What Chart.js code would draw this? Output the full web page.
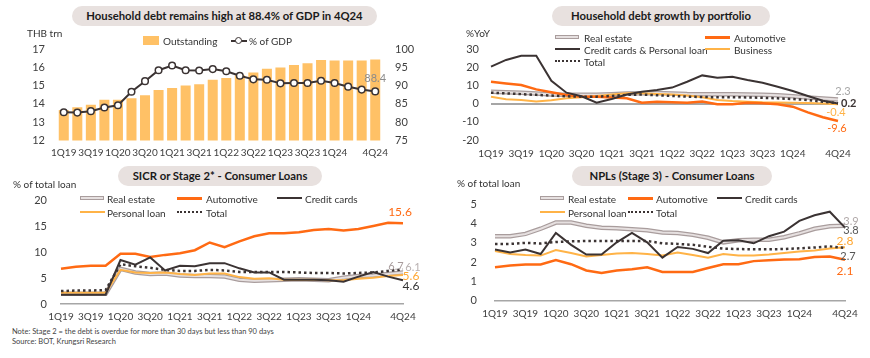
<!DOCTYPE html>
<html>
<head>
<meta charset="utf-8">
<script src="https://cdn.jsdelivr.net/npm/chart.js@4.4.0/dist/chart.umd.min.js"></script>
<style>
  html, body { margin: 0; padding: 0; background: #fff; }
  body { width: 870px; height: 358px; position: relative; overflow: hidden; font-family: Lato, "Open Sans", sans-serif; color: #333; }
  .abs { position: absolute; }
  .pill { position: absolute; height: 20px; line-height: 20px; border-radius: 10px; background: #e8e1df; text-align: center; font-weight: bold; font-size: 11.3px; color: #1a1a1a; white-space: nowrap; }
  .unit { position: absolute; font-size: 10px; color: #333; line-height: 12px; white-space: nowrap; }
  .lg { position: absolute; font-size: 10px; color: #333; line-height: 12px; white-space: nowrap; }
  .sw { position: absolute; }
  .note { position: absolute; left: 12px; font-size: 7.5px; color: #444; line-height: 10px; white-space: nowrap; }
</style>
</head>
<body>
<canvas id="c1" class="abs" width="435" height="132" style="left:0;top:28px"></canvas>
<canvas id="c2" class="abs" width="435" height="132" style="left:435px;top:28px"></canvas>
<canvas id="c3" class="abs" width="435" height="145" style="left:0;top:180px"></canvas>
<canvas id="c4" class="abs" width="435" height="145" style="left:435px;top:180px"></canvas>

<div class="pill" style="left:72px;top:6px;width:305px">Household debt remains high at 88.4% of GDP in 4Q24</div>
<div class="pill" style="left:552px;top:6px;width:218px">Household debt growth by portfolio</div>
<div class="pill" style="left:118px;top:166px;width:204px">SICR or Stage 2* - Consumer Loans</div>
<div class="pill" style="left:572px;top:166px;width:200px">NPLs (Stage 3) - Consumer Loans</div>

<div class="unit" style="left:27px;top:27px">THB trn</div>
<div class="unit" style="left:466px;top:27px">%YoY</div>
<div class="unit" style="left:13px;top:178px">% of total loan</div>
<div class="unit" style="left:457px;top:177px">% of total loan</div>

<div id="legends"></div>

<div class="note" style="top:327px">Note: Stage 2 = the debt is overdue for more than 30 days but less than 90 days</div>
<div class="note" style="top:337px">Source: BOT, Krungsri Research</div>

<script>
// quarters shared by all four panels
const quarters = ["1Q19", "2Q19", "3Q19", "4Q19", "1Q20", "2Q20", "3Q20", "4Q20",
  "1Q21", "2Q21", "3Q21", "4Q21", "1Q22", "2Q22", "3Q22", "4Q22",
  "1Q23", "2Q23", "3Q23", "4Q23", "1Q24", "2Q24", "3Q24", "4Q24"]

// Household debt (THB trn) and % of GDP
const debtOutstanding = [13.66, 13.81, 13.95, 14.22, 14.22, 14.31, 14.47, 14.76, 14.87, 15.01, 15.07, 15.32,
  15.41, 15.57, 15.72, 15.92, 15.99, 16.12, 16.22, 16.40, 16.37, 16.37, 16.37, 16.42]
const debtPctGdp = [82.7, 82.6, 83.0, 84.0, 84.6, 88.3, 91.2, 94.2, 95.5, 94.2, 94.1, 94.5,
  93.9, 92.7, 91.7, 91.6, 90.6, 90.7, 90.7, 91.3, 90.7, 89.7, 88.9, 88.4]

// Growth by portfolio (%YoY)
const growthRealEstate = [6.5, 6.2, 6.0, 5.6, 5.0, 4.8, 4.8, 4.9, 5.2, 5.5, 5.7, 5.8, 5.6, 5.3, 5.2, 5.2, 5.2, 5.0, 4.9, 4.6, 4.0, 3.4, 2.8, 2.3]
const growthAutomotive = [12.0, 11.1, 10.2, 7.8, 6.2, 4.7, 3.8, 3.8, 3.3, 2.9, 0.5, 1.0, 0.7, 0.5, 1.2, -0.4, -0.4, 0.5, 0.2, -0.4, -1.7, -4.8, -7.5, -9.6]
const growthCredit = [20.3, 24.0, 26.3, 26.3, 12.5, 6.0, 4.0, 0.5, 2.5, 5.0, 6.5, 7.5, 8.8, 12.0, 15.5, 14.2, 14.8, 13.0, 11.5, 9.3, 6.9, 4.2, 1.6, 0.1]
const growthBusiness = [3.8, 2.4, 2.0, 1.2, 1.8, 2.9, 3.5, 4.2, 5.0, 5.7, 5.7, 5.3, 5.0, 4.5, 3.5, 2.0, 1.4, 1.0, 0.7, 0.6, 0.5, 0.3, 0.0, -0.4]
const growthTotal = [6.0, 5.6, 5.2, 4.8, 4.4, 4.0, 3.8, 3.8, 4.2, 4.8, 5.0, 4.6, 4.2, 3.8, 3.6, 3.5, 3.5, 3.4, 3.2, 2.9, 2.5, 2.0, 1.0, 0.2]

// SICR / Stage 2 (% of total loan)
const sicrRealEstate = [2.0, 2.0, 2.0, 2.0, 6.8, 6.1, 5.8, 5.9, 5.5, 5.4, 5.4, 5.3, 4.7, 4.5, 4.6, 4.7, 4.8, 4.7, 4.6, 5.1, 5.4, 5.5, 5.8, 6.1]
const sicrAutomotive = [6.8, 7.2, 7.4, 7.4, 9.7, 9.7, 9.1, 9.5, 9.8, 10.4, 11.9, 11.0, 12.1, 13.1, 13.7, 13.7, 13.9, 14.3, 14.5, 14.2, 14.5, 15.1, 15.7, 15.6]
const sicrCredit = [1.8, 1.8, 1.8, 1.8, 8.5, 7.6, 9.0, 6.5, 7.4, 7.3, 7.9, 7.9, 6.9, 6.1, 6.1, 4.7, 4.7, 4.7, 4.6, 4.3, 5.3, 6.2, 5.3, 4.6]
const sicrPersonal = [2.2, 2.2, 2.2, 2.2, 6.6, 6.1, 6.0, 6.1, 5.8, 5.6, 5.9, 5.9, 5.2, 4.9, 5.0, 4.7, 4.7, 4.7, 4.6, 4.6, 4.9, 5.1, 5.4, 5.6]
const sicrTotal = [2.5, 2.6, 2.6, 2.7, 7.7, 7.3, 7.0, 6.6, 6.4, 6.4, 6.6, 6.5, 6.2, 6.2, 6.2, 6.2, 6.1, 6.0, 6.0, 5.9, 6.0, 6.1, 6.4, 6.7]

// NPLs / Stage 3 (% of total loan)
const nplRealEstate = [3.35, 3.35, 3.47, 3.74, 4.06, 4.06, 3.90, 3.79, 3.76, 3.71, 3.66, 3.55, 3.52, 3.42, 3.27, 3.03, 3.14, 3.17, 3.17, 3.30, 3.50, 3.74, 3.87, 3.90]
const nplAutomotive = [1.73, 1.82, 1.87, 1.87, 2.10, 1.89, 1.56, 1.43, 1.56, 1.63, 1.73, 1.48, 1.48, 1.48, 1.69, 1.89, 1.89, 2.05, 2.10, 2.13, 2.15, 2.26, 2.29, 2.12]
const nplCredit = [2.66, 2.50, 2.66, 2.42, 3.52, 2.90, 2.39, 2.39, 3.03, 3.52, 3.03, 2.23, 2.79, 2.69, 2.47, 3.11, 3.14, 2.98, 3.35, 3.59, 4.15, 4.44, 4.63, 3.80]
const nplPersonal = [2.58, 2.42, 2.37, 2.34, 2.63, 2.47, 2.29, 2.37, 2.45, 2.47, 2.42, 2.34, 2.50, 2.37, 2.23, 2.42, 2.34, 2.34, 2.39, 2.47, 2.55, 2.61, 2.71, 2.77]
const nplTotal = [2.95, 2.95, 3.00, 2.97, 3.05, 3.08, 3.10, 3.10, 3.10, 3.10, 3.10, 2.98, 2.95, 2.90, 2.80, 2.70, 2.68, 2.67, 2.67, 2.68, 2.72, 2.76, 2.82, 2.74]

const C = {
  bar: "#ffc166",
  dark: "#3b3333",
  auto: "#ff6a13",
  light: "#ffb347",
  reOuter: "#a99d9d",
  reInner: "#e6e0e0",
  axis: "#a6a6a6",
  tick: "#404040"
}
const FONT = "Lato, 'Open Sans', sans-serif"

// draws the value of the last point of a dataset next to it
const endLabelsPlugin = {
  id: "endLabels",
  afterDatasetsDraw(chart, args, opts) {
    const items = opts.items || []
    const { ctx } = chart
    ctx.save()
    items.forEach(it => {
      const meta = chart.getDatasetMeta(it.dataset)
      const pt = meta.data[meta.data.length - 1]
      const data = chart.data.datasets[it.dataset].data
      const v = data[data.length - 1]
      ctx.font = `${it.weight || "normal"} ${it.size || 11}px ${FONT}`
      ctx.fillStyle = it.color
      ctx.textAlign = it.align || "center"
      ctx.textBaseline = "middle"
      ctx.fillText(v.toFixed(1), pt.x + (it.dx || 0), pt.y + (it.dy || 0))
    })
    ctx.restore()
  }
}
Chart.register(endLabelsPlugin)
Chart.defaults.font.family = FONT
Chart.defaults.animation = false

const quarterTick = function (value, index) {
  if (index === quarters.length - 1) return quarters[index]
  if (index % 2 === 0 && index <= 20) return quarters[index]
  return ""
}

function xScale(height, padding, offset) {
  return {
    offset: offset,
    grid: { display: false, drawTicks: false },
    border: { display: false },
    ticks: { autoSkip: false, maxRotation: 0, padding: padding, color: C.tick, font: { size: 10 }, callback: quarterTick },
    afterFit: s => { s.height = height }
  }
}

function yScale(min, max, step, width, padding, position) {
  return {
    position: position || "left",
    min: min,
    max: max,
    grid: { display: false, drawTicks: false },
    border: { display: false },
    ticks: { stepSize: step, padding: padding, color: C.tick, font: { size: 11 } },
    afterFit: s => { s.width = width }
  }
}

function line(data, color, width, order, extra) {
  return Object.assign({
    data: data,
    borderColor: color,
    borderWidth: width,
    pointRadius: 0,
    tension: 0,
    fill: false,
    order: order
  }, extra || {})
}

// real estate is drawn as a light line with a darker outline
function realEstateLines(data, order) {
  return [
    line(data, C.reInner, 2, order),
    line(data, C.reOuter, 4.5, order + 1)
  ]
}

const dotted = { borderDash: [2.5, 3], borderCapStyle: "butt" }

// 1. Household debt
new Chart(document.getElementById("c1"), {
  type: "bar",
  data: {
    labels: quarters,
    datasets: [
      {
        type: "line",
        data: debtPctGdp,
        yAxisID: "y1",
        borderColor: C.dark,
        borderWidth: 2,
        pointRadius: 3.3,
        pointBackgroundColor: "#fff",
        pointBorderColor: C.dark,
        pointBorderWidth: 1.5,
        tension: 0,
        order: 0
      },
      {
        data: debtOutstanding,
        yAxisID: "y",
        backgroundColor: C.bar,
        barPercentage: 0.74,
        categoryPercentage: 1,
        order: 1
      }
    ]
  },
  options: {
    responsive: false,
    layout: { padding: { top: 21, right: 0, left: 0, bottom: 0 } },
    plugins: {
      legend: { display: false },
      tooltip: { enabled: false },
      endLabels: { items: [{ dataset: 0, color: "#8c8c8c", dx: 0, dy: -13, size: 11 }] }
    },
    scales: {
      x: xScale(18, 6, true),
      y: yScale(12, 17, 1, 57, 12),
      y1: yScale(75, 100, 5, 53, 13, "right")
    }
  }
})

// 2. Growth by portfolio
const growthY = yScale(-20, 30, 10, 56, 12)
growthY.grid = {
  display: true,
  drawTicks: false,
  color: ctx => ctx.tick && ctx.tick.value === 0 ? C.axis : "rgba(0,0,0,0)",
  lineWidth: 2
}
new Chart(document.getElementById("c2"), {
  type: "line",
  data: {
    labels: quarters,
    datasets: [
      line(growthCredit, C.dark, 2, 1),
      line(growthTotal, C.dark, 2.5, 2, dotted),
      line(growthAutomotive, C.auto, 2.5, 3),
      line(growthBusiness, C.light, 2, 4),
      ...realEstateLines(growthRealEstate, 5)
    ]
  },
  options: {
    responsive: false,
    layout: { padding: { top: 21, right: 32, left: 0, bottom: 0 } },
    plugins: {
      legend: { display: false },
      tooltip: { enabled: false },
      endLabels: {
        items: [
          { dataset: 4, color: "#a6a6a6", dx: 5, dy: -8 },
          { dataset: 1, color: C.dark, align: "left", dx: 3, dy: 0, weight: "bold" },
          { dataset: 3, color: C.light, dx: -2, dy: 8 },
          { dataset: 2, color: C.auto, dx: -1, dy: 7 }
        ]
      }
    },
    scales: {
      x: xScale(20, 8, false),
      y: growthY
    }
  }
})

// 3. SICR / Stage 2
const baseX3 = xScale(21, 7, false)
baseX3.border = { display: true, color: C.axis, width: 1.5 }
new Chart(document.getElementById("c3"), {
  type: "line",
  data: {
    labels: quarters,
    datasets: [
      line(sicrCredit, C.dark, 2, 1),
      line(sicrTotal, C.dark, 2.5, 2, dotted),
      line(sicrAutomotive, C.auto, 2.5, 3),
      line(sicrPersonal, C.light, 2, 4),
      ...realEstateLines(sicrRealEstate, 5)
    ]
  },
  options: {
    responsive: false,
    layout: { padding: { top: 19, right: 32, left: 0, bottom: 0 } },
    plugins: {
      legend: { display: false },
      tooltip: { enabled: false },
      endLabels: {
        items: [
          { dataset: 2, color: C.auto, dx: -3, dy: -11, size: 12 },
          { dataset: 1, color: "#a89c9c", dx: -7, dy: -3 },
          { dataset: 4, color: "#b8b0b0", dx: 10, dy: -5 },
          { dataset: 3, color: "#ffa630", dx: 8, dy: 1, size: 12 },
          { dataset: 0, color: "#333", dx: 8, dy: 6, size: 12 }
        ]
      }
    },
    scales: {
      x: baseX3,
      y: yScale(0, 20, 5, 61, 14)
    }
  }
})

// 4. NPLs / Stage 3
const baseX4 = xScale(20, 7, false)
baseX4.border = { display: true, color: C.axis, width: 1.5 }
new Chart(document.getElementById("c4"), {
  type: "line",
  data: {
    labels: quarters,
    datasets: [
      line(nplCredit, C.dark, 2, 1),
      line(nplTotal, C.dark, 2.5, 2, dotted),
      line(nplAutomotive, C.auto, 2.5, 3),
      line(nplPersonal, C.light, 2, 4),
      ...realEstateLines(nplRealEstate, 5)
    ]
  },
  options: {
    responsive: false,
    layout: { padding: { top: 22, right: 25, left: 0, bottom: 0 } },
    plugins: {
      legend: { display: false },
      tooltip: { enabled: false },
      endLabels: {
        items: [
          { dataset: 4, color: "#b0a8a8", dx: 6, dy: -4 },
          { dataset: 0, color: "#555", dx: 6, dy: 3 },
          { dataset: 3, color: "#ffa630", dx: 0, dy: -6, size: 12 },
          { dataset: 1, color: "#555", dx: 3, dy: 9 },
          { dataset: 2, color: C.auto, dx: 0, dy: 11, size: 12 }
        ]
      }
    },
    scales: {
      x: baseX4,
      y: yScale(0, 5, 1, 60, 18)
    }
  }
})

// legends (html so that the uneven column layout can be matched)
const swatches = {
  box: `<div style="width:16px;height:9px;background:${C.bar}"></div>`,
  gdp: `<div style="position:relative;width:16px;height:9px"><div style="position:absolute;left:0;top:3.5px;width:16px;height:2px;background:${C.dark}"></div><div style="position:absolute;left:4px;top:0.5px;width:5px;height:5px;border:1.5px solid ${C.dark};border-radius:50%;background:#fff"></div></div>`,
  re: `<div style="width:22px;height:2px;background:${C.reInner};border:1.2px solid ${C.reOuter};margin-top:2px"></div>`,
  auto: `<div style="width:25px;height:2.5px;background:${C.auto};margin-top:3px"></div>`,
  dark: `<div style="width:25px;height:2px;background:${C.dark};margin-top:3px"></div>`,
  light: `<div style="width:25px;height:2px;background:${C.light};margin-top:3px"></div>`,
  dot: `<div style="width:25px;height:0;border-top:2.5px dotted ${C.dark};margin-top:3px"></div>`
}

const legendItems = [
  // panel 1
  [143, 35, "box", "Outstanding", 20],
  [231, 35, "gdp", "% of GDP", 18],
  // panel 2
  [555, 32, "re", "Real estate", 29],
  [705, 32, "auto", "Automotive", 29],
  [555, 44, "dark", "Credit cards & Personal loan", 29],
  [705, 44, "light", "Business", 29],
  [555, 56, "dot", "Total", 29],
  // panel 3
  [80, 193, "re", "Real estate", 27],
  [177, 193, "auto", "Automotive", 29],
  [277, 193, "dark", "Credit cards", 28],
  [80, 207, "light", "Personal loan", 27],
  [177, 207, "dot", "Total", 29],
  // panel 4
  [540, 193, "re", "Real estate", 28],
  [628, 193, "auto", "Automotive", 28],
  [717, 193, "dark", "Credit cards", 28],
  [540, 207, "light", "Personal loan", 28],
  [628, 207, "dot", "Total", 28]
]

const legendRoot = document.getElementById("legends")
legendItems.forEach(([x, y, kind, text, gap]) => {
  const sw = document.createElement("div")
  sw.className = "sw"
  sw.style.left = x + "px"
  sw.style.top = (y + 1) + "px"
  sw.innerHTML = swatches[kind]
  legendRoot.appendChild(sw)
  const t = document.createElement("div")
  t.className = "lg"
  t.style.left = (x + gap) + "px"
  t.style.top = y + "px"
  t.textContent = text
  legendRoot.appendChild(t)
})
</script>
</body>
</html>
